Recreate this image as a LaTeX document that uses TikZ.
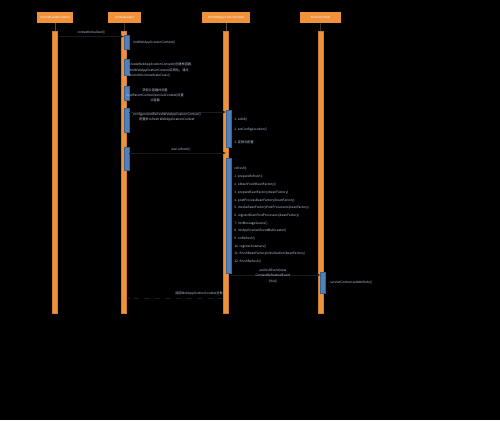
\documentclass[tikz,border=0pt]{standalone}
\usepackage{fontspec}
\setmainfont{Noto Sans CJK SC}
\usetikzlibrary{arrows.meta, positioning}
\definecolor{arancio}{RGB}{240,146,60}
\definecolor{blu}{RGB}{79,129,189}
\definecolor{testo}{RGB}{190,200,225}
\definecolor{freccia}{RGB}{28,28,28}

\begin{document}
\begin{tikzpicture}[
  x=0.02cm, y=-0.02cm,
  partecipante/.style={fill=arancio, text=white, inner sep=0pt,
                       minimum height=0.22cm, font=\fontsize{1.6}{2}\selectfont},
  vita/.style={fill=arancio, draw=arancio!85!black, line width=0.2pt,
               inner sep=0pt, minimum width=0.1cm, minimum height=5.64cm},
  attivazione/.style={fill=blu, draw=blu!75!black, line width=0.2pt,
                      inner sep=0pt, minimum width=0.1cm},
  aggancio/.style={draw=black!70, line width=0.3pt},
  messaggio/.style={draw=freccia, line width=0.3pt, -{Stealth[length=2pt]}},
  ritorno/.style={messaggio, dashed},
  nota/.style={text=testo, inner sep=0pt, align=left,
               font=\fontsize{1.8}{2.9}\selectfont}
]

% sfondo e cornice dell'immagine
\fill[black] (0,0) rectangle (500,420);
\useasboundingbox (0,0) rectangle (500,420);

% ---- partecipanti ---------------------------------------------------
\node[partecipante, minimum width=0.72cm] (listener) at (55,17.5)    {ContextLoaderListener};
\node[partecipante, minimum width=0.66cm] (loader)   at (124.5,17.5) {ContextLoader};
\node[partecipante, minimum width=0.96cm] (wac)      at (226,17.5)   {XmlWebApplicationContext};
\node[partecipante, minimum width=0.82cm] (servlet)  at (320.5,17.5) {ServletContext};

% ---- linee di vita ----------------------------------------------------
\node[vita] (vitaListener) at (55,172)  {};
\node[vita] (vitaLoader)   at (124,172) {};
\node[vita] (vitaWac)      at (226,172) {};
\node[vita] (vitaServlet)  at (321,172) {};

\draw[aggancio] (listener) -- (vitaListener);
\draw[aggancio] (loader)   -- (vitaLoader);
\draw[aggancio] (wac)      -- (vitaWac);
\draw[aggancio] (servlet)  -- (vitaServlet);

% ---- attivazioni ------------------------------------------------------
\node[attivazione, minimum height=0.28cm] (att1) at (126.5,42)    {};
\node[attivazione, minimum height=0.32cm] (att2) at (126.5,67)    {};
\node[attivazione, minimum height=0.28cm] (att3) at (126.5,93)    {};
\node[attivazione, minimum height=0.48cm] (att4) at (126.5,120)   {};
\node[attivazione, minimum height=0.46cm] (att5) at (126.5,158.5) {};
\node[attivazione, minimum height=0.74cm] (att6) at (228.5,128.5) {};
\node[attivazione, minimum height=2.30cm] (att7) at (228.5,215.5) {};
\node[attivazione, minimum height=0.42cm] (att8) at (323,282.5)   {};

% ---- messaggi -----------------------------------------------------------
\coordinate (quota1) at (0,36.5);
\coordinate (quota2) at (0,112);
\coordinate (quota3) at (0,153);
\coordinate (quota4) at (0,275);
\coordinate (quota5) at (0,298);

\draw[messaggio] (vitaListener.east |- quota1) -- (att1.west |- quota1);
\draw[messaggio] (att4.east |- quota2) -- (att6.west |- quota2);
\draw[messaggio] (att5.east |- quota3) -- (att7.west |- quota3);
\draw[messaggio] (att7.east |- quota4) -- (att8.west |- quota4);
\draw[ritorno]   (vitaWac.west |- quota5) -- (vitaLoader.east |- quota5);

% ---- testi -----------------------------------------------------------------
\node[nota, anchor=west] (tInit)    at (77,33)  {contextInitialized()};
\node[nota, anchor=west] (tInitWac) at (133,43) {initWebApplicationContext()};
\node[nota, anchor=west] (tCrea)    at (129,70)
  {createWebApplicationContext()创建根容器,\\
   XmlWebApplicationContext实例化，通过\\
   BeanUtils.instantiateClass()};
\node[nota, align=center] (tPadre)  at (155,95)
  {获取父容器并设置\\ loadParentContext(servletContext)设置\\ 父容器};
\node[nota, align=center] (tConf)   at (167,117)
  {configureAndRefreshWebApplicationContext()\\ 配置并refresh WebApplicationContext};
\node[nota] (tRefresh) at (181,150) {wac.refresh()};

% passi di configurazione
\node[nota, anchor=west] (passo1) at (234,120) {1. setId()};
\node[nota, anchor=west] (passo2) at (234,130) {2. setConfigLocation()};
\node[nota, anchor=west] (passo3) at (234,142) {3. 定制化配置};

% passi di refresh
\node[nota, anchor=west] (voce0) at (234,169) {refresh()};
\foreach \voce [count=\i] in {prepareRefresh(), obtainFreshBeanFactory(),
    prepareBeanFactory(beanFactory), postProcessBeanFactory(beanFactory),
    invokeBeanFactoryPostProcessors(beanFactory), registerBeanPostProcessors(beanFactory),
    initMessageSource(), initApplicationEventMulticaster(), onRefresh(),
    registerListeners(), finishBeanFactoryInitialization(beanFactory), finishRefresh()}
  \node[nota, anchor=west] (voce\i) at (234,{177+(\i-1)*7.7}) {\i. \voce};

\node[nota, align=center] (tEvento) at (273,276)
  {publishEvent(new\\ ContextRefreshedEvent\\ (this))};
\node[nota, anchor=west] (tAttr) at (330,283) {servletContext.setAttribute()};
\node[nota] (tRitorno) at (199,294) {返回WebApplicationContext对象};

\end{tikzpicture}
\end{document}
